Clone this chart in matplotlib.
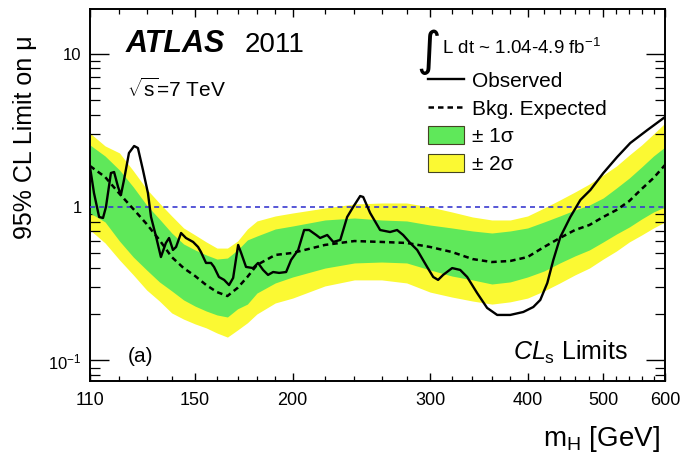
import matplotlib
matplotlib.use('Agg')
import matplotlib.pyplot as plt
from matplotlib.lines import Line2D
from matplotlib.patches import Patch
from matplotlib.ticker import NullFormatter

plt.rcParams['font.family'] = ['Liberation Sans', 'DejaVu Sans']
plt.rcParams['mathtext.fontset'] = 'custom'
plt.rcParams['mathtext.rm'] = 'Liberation Sans'
plt.rcParams['mathtext.it'] = 'Liberation Sans:italic'
plt.rcParams['mathtext.bf'] = 'Liberation Sans:bold'

# Higgs mass grid for expected limit and bands (GeV)
mass = [110, 115, 120, 125, 130, 135, 140, 145, 150, 155, 160, 165, 170, 175, 180,
        190, 200, 220, 240, 260, 280, 300, 320, 340, 360, 380, 400, 420, 440, 460,
        480, 500, 520, 540, 560, 580, 600]
expected = [1.85, 1.57, 1.22, 0.97, 0.775, 0.61, 0.472, 0.40, 0.355, 0.31, 0.279, 0.263,
            0.297, 0.35, 0.419, 0.487, 0.502, 0.566, 0.60, 0.592, 0.583, 0.549, 0.509,
            0.458, 0.438, 0.445, 0.472, 0.549, 0.628, 0.708, 0.763, 0.861, 0.956, 1.094,
            1.31, 1.545, 1.878]
plus1 = [2.535, 2.149, 1.742, 1.35, 1.03, 0.835, 0.677, 0.574, 0.525, 0.487, 0.458, 0.465,
         0.525, 0.61, 0.647, 0.719, 0.752, 0.823, 0.848, 0.823, 0.811, 0.763, 0.73, 0.698,
         0.677, 0.698, 0.73, 0.799, 0.874, 0.956, 1.03, 1.145, 1.33, 1.545, 1.822, 2.149, 2.46]
minus1 = [0.914, 0.799, 0.60, 0.472, 0.389, 0.325, 0.284, 0.248, 0.226, 0.21, 0.198, 0.192,
          0.217, 0.233, 0.275, 0.32, 0.35, 0.40, 0.432, 0.438, 0.432, 0.389, 0.355, 0.335,
          0.315, 0.325, 0.35, 0.383, 0.432, 0.48, 0.525, 0.592, 0.667, 0.741, 0.835, 0.928, 1.0]
plus2 = [3.03, 2.50, 2.25, 1.72, 1.31, 1.06, 0.874, 0.73, 0.657, 0.592, 0.54, 0.54,
         0.60, 0.719, 0.811, 0.874, 0.914, 0.985, 1.046, 1.062, 1.062, 1.0, 0.928, 0.861,
         0.823, 0.823, 0.874, 0.985, 1.111, 1.252, 1.412, 1.616, 1.85, 2.181, 2.535, 2.989, 3.525]
minus2 = [0.708, 0.583, 0.452, 0.361, 0.288, 0.244, 0.204, 0.186, 0.173, 0.163, 0.151, 0.142,
          0.158, 0.176, 0.201, 0.237, 0.255, 0.306, 0.335, 0.335, 0.32, 0.279, 0.259, 0.244,
          0.233, 0.241, 0.255, 0.284, 0.32, 0.361, 0.40, 0.458, 0.517, 0.592, 0.657, 0.73, 0.799]

# observed limit
obs_mass = [110, 111.3, 113.0, 114.3, 115.3, 117.0, 118.1, 119.5, 120.5, 121.6, 123.4, 125.3,
            126.7, 128.6, 130.5, 131.7, 133.7, 135.6, 137.6, 138.9, 140.5, 141.8, 143.9, 146.0,
            149.1, 151.3, 152.6, 154.9, 157.2, 158.6, 160.9, 163.4, 165.8, 167.8, 170.3, 171.8,
            174.3, 178.0, 180.6, 183.3, 186.0, 188.8, 192.2, 196.2, 199.1, 203.3, 206.9, 210.0,
            214.4, 216.9, 221.5, 225.5, 230.2, 234.9, 239.1, 244.1, 246.3, 251.4, 258.9, 266.6,
            272.2, 277.1, 282.9, 288.8, 297.4, 302.8, 307.2, 311.8, 320.2, 327.9, 334.7, 344.7,
            355.0, 365.7, 380.0, 395.0, 406.8, 415.3, 424.0, 431.6, 440.6, 453.8, 467.4, 481.4,
            500.2, 521.0, 541.6, 569.6, 600]
observed = [1.822, 1.234, 0.861, 0.848, 1.0, 1.665, 1.69, 1.35, 1.197, 1.499, 2.248, 2.497,
            2.423, 1.742, 1.234, 0.861, 0.638, 0.472, 0.583, 0.628, 0.525, 0.549, 0.677, 0.628,
            0.592, 0.549, 0.509, 0.432, 0.432, 0.407, 0.35, 0.335, 0.31, 0.345, 0.566, 0.502,
            0.407, 0.40, 0.432, 0.389, 0.361, 0.377, 0.372, 0.377, 0.452, 0.525, 0.708, 0.708,
            0.657, 0.628, 0.657, 0.592, 0.61, 0.861, 1.0, 1.179, 1.162, 0.914, 0.708, 0.687,
            0.708, 0.657, 0.583, 0.525, 0.407, 0.35, 0.335, 0.361, 0.40, 0.389, 0.35, 0.275,
            0.22, 0.198, 0.198, 0.207, 0.223, 0.248, 0.32, 0.452, 0.638, 0.861, 1.111, 1.29,
            1.665, 2.117, 2.612, 3.174, 3.857]

xticks = [110, 150, 200, 300, 400, 500, 600]
green = '#5fe85a'
yellow = '#fbf933'

fig = plt.figure(figsize=(6.85, 4.55), dpi=100)
ax = fig.add_axes([90 / 685, 74 / 455, 575 / 685, 372 / 455])

ax.fill_between(mass, minus2, plus2, color=yellow, lw=0, zorder=1)
ax.fill_between(mass, minus1, plus1, color=green, lw=0, zorder=2)
ax.axhline(1, color='#3a3ad0', lw=1.2, ls=(0, (3, 2.5)), zorder=3)
ax.plot(mass, expected, color='black', lw=1.8, ls=(0, (2.2, 1.6)), zorder=4)
ax.plot(obs_mass, observed, color='black', lw=1.7, zorder=5)

ax.set_xscale('log')
ax.set_yscale('log')
ax.set_xlim(110, 600)
ax.set_ylim(0.0735, 19.5)

ax.set_xticks(xticks, [str(t) for t in xticks])
ax.set_xticks([m for m in list(range(120, 200, 10)) + list(range(220, 600, 20))
               if m not in xticks], minor=True)
ax.xaxis.set_minor_formatter(NullFormatter())
ax.yaxis.set_minor_formatter(NullFormatter())
ax.set_yticks([0.1, 1, 10], [r'$10^{-1}$', '1', '10'])
ax.tick_params(axis='x', which='major', direction='in', top=True, length=6, width=1,
               labelsize=13, pad=8)
ax.tick_params(axis='x', which='minor', direction='in', top=True, length=3.5, width=0.9)
ax.tick_params(axis='y', which='major', direction='in', right=True, length=14, width=1,
               labelsize=12, pad=6)
ax.tick_params(axis='y', which='minor', direction='in', right=True, length=7, width=0.9)
for s in ax.spines.values():
    s.set_linewidth(1.4)

# labels
fig.text(25 / 685, 1 - 137 / 455, '95% CL Limit on \u03bc', rotation=90,
         ha='center', va='center', fontsize=18)
fig.text(660 / 685, 1 - 446 / 455, r'm$_{\mathrm{H}}$ [GeV]', ha='right',
         va='baseline', fontsize=20)

fig.text(126 / 685, 1 - 52 / 455, 'ATLAS', fontsize=22, fontweight='bold',
         fontstyle='italic', va='baseline')
fig.text(245 / 685, 1 - 52 / 455, '2011', fontsize=20, va='baseline')
fig.text(127 / 685, 1 - 97 / 455, r'$\sqrt{\mathrm{s}}$=7 TeV', fontsize=15, va='baseline')
fig.text(128 / 685, 1 - 362 / 455, '(a)', fontsize=15, va='baseline')
fig.text(513 / 685, 1 - 360 / 455, r'$\mathit{CL}_{\mathrm{s}}$ Limits', fontsize=18,
         va='baseline')

fig.text(416 / 685, 1 - 52 / 455, '\u222b', fontsize=34, va='center',
         family='DejaVu Sans')
fig.text(442 / 685, 1 - 54 / 455, r'L dt ~ 1.04-4.9 fb$^{\mathrm{-1}}$', fontsize=13.5,
         va='baseline')

handles = [Line2D([], [], color='black', lw=1.7),
           Line2D([], [], color='black', lw=1.8, ls=(0, (2.2, 1.6))),
           Patch(facecolor=green, edgecolor='#444422', lw=0.8),
           Patch(facecolor=yellow, edgecolor='#444422', lw=0.8)]
labels = ['Observed', 'Bkg. Expected', '\u00b1 1\u03c3', '\u00b1 2\u03c3']
ax.legend(handles, labels, loc='upper left', bbox_to_anchor=(428 / 685, 1 - 71 / 455),
          bbox_transform=fig.transFigure, frameon=False, fontsize=15,
          handlelength=1.75, handleheight=0.95, handletextpad=0.35,
          labelspacing=0.36, borderpad=0, borderaxespad=0)

fig.savefig('out.png', dpi=100)
